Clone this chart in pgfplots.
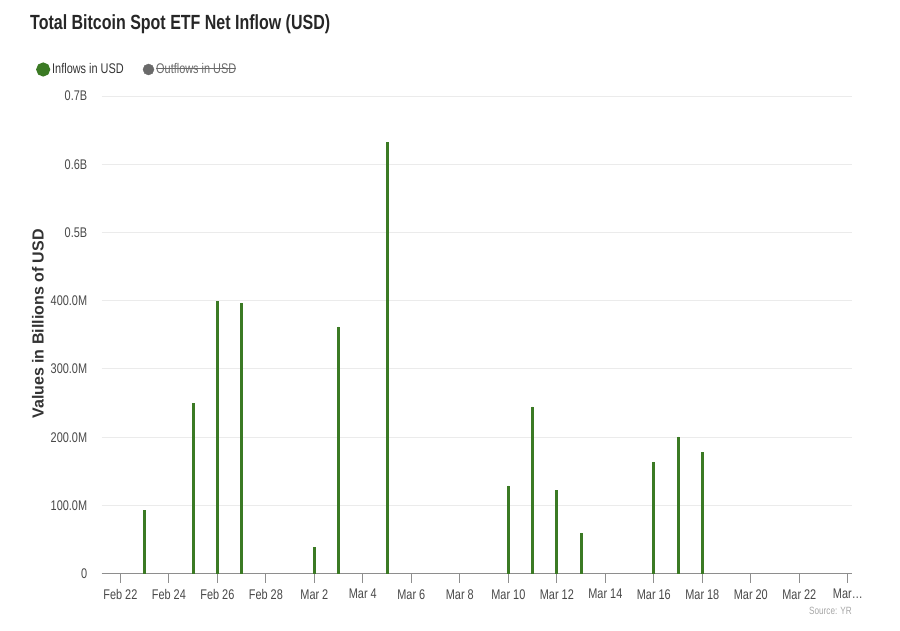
\documentclass[border=0pt]{standalone}
\usepackage{fontspec}
\setmainfont[FakeStretch=0.78]{Liberation Sans}
\newfontfamily\ylabfont{Liberation Sans}
\usepackage{pgfplots}
\pgfplotsset{compat=1.18}

\definecolor{inflow}{HTML}{3B7A24}
\definecolor{outflow}{HTML}{6A6A6A}
\definecolor{gridgray}{HTML}{EBEBEB}
\definecolor{axisgray}{HTML}{8E8E8E}
\definecolor{ticktext}{HTML}{484848}

\newlength\strikelen
\newcommand\strike[1]{\settowidth\strikelen{#1}\rlap{\rule[0.33em]{\strikelen}{0.8pt}}#1}

% net inflow per day, millions of USD (day 0 = Feb 22)
\pgfplotstableread{
day  value
1    93
3    250
4    399
5    397
8    39
9    362
11   632
16   129
17   245
18   122
19   60
22   164
23   201
24   178
}\inflows

\begin{document}
\begin{tikzpicture}
\path[use as bounding box] (0pt,0pt) rectangle (900pt,630pt);

\begin{axis}[
  at={(101.7pt,56.3pt)}, anchor=south west,
  scale only axis,
  width=750pt, height=477.7pt,
  xmin=-0.77, xmax=30.16,
  ymin=0, ymax=700,
  axis x line*=bottom,
  axis y line*=left,
  y axis line style={draw=none},
  x axis line style={draw=axisgray, line width=1.4pt},
  xtick={0,2,...,30},
  xticklabels={Feb 22,Feb 24,Feb 26,Feb 28,Mar 2,Mar 4,Mar 6,Mar 8,Mar 10,Mar 12,Mar 14,Mar 16,Mar 18,Mar 20,Mar 22,Mar\ldots},
  ytick={0,100,...,700},
  yticklabels={0,100.0M,200.0M,300.0M,400.0M,0.5B,0.6B,0.7B},
  tick align=outside,
  major tick length=9pt,
  xtick style={draw=axisgray, line width=1.2pt},
  ytick style={draw=none},
  xticklabel style={font=\fontsize{14}{16}\selectfont, text=ticktext, yshift=-3pt},
  yticklabel style={font=\fontsize{14}{16}\selectfont, text=ticktext, xshift=-2pt},
  ymajorgrids,
  grid style={draw=gridgray, line width=1pt},
  legend columns=2,
  legend cell align=left,
  legend style={at={(-0.0876,1.0555)}, anchor=west, draw=none, fill=none,
    inner sep=0pt, font=\fontsize{14}{16}\selectfont, text=black!80,
    /tikz/every even column/.append style={column sep=17pt}},
  legend image code/.code={\fill[#1] (4pt,0pt) circle (5.5pt);},
]
\addplot[ycomb, draw=inflow, fill=inflow, line width=3pt, line cap=butt] table[x=day, y=value] {\inflows};
\addlegendentry{Inflows in USD}
\addlegendimage{draw=outflow, fill=outflow}
\addlegendentry{\textcolor{outflow}{\strike{Outflows in USD}}}
\end{axis}

\node[anchor=base west, font=\bfseries\fontsize{20.5}{24}\selectfont, text=black!85, inner sep=0pt]
  at (30pt,600pt) {Total Bitcoin Spot ETF Net Inflow (USD)};
\node[rotate=90, font=\ylabfont\bfseries\fontsize{16}{19}\selectfont, text=black!80, inner sep=0pt]
  at (38pt,306pt) {Values in Billions of USD};
\node[anchor=base east, font=\fontsize{10.5}{12}\selectfont, text=black!35, inner sep=0pt]
  at (852pt,16pt) {Source: YR};
\end{tikzpicture}
\end{document}
